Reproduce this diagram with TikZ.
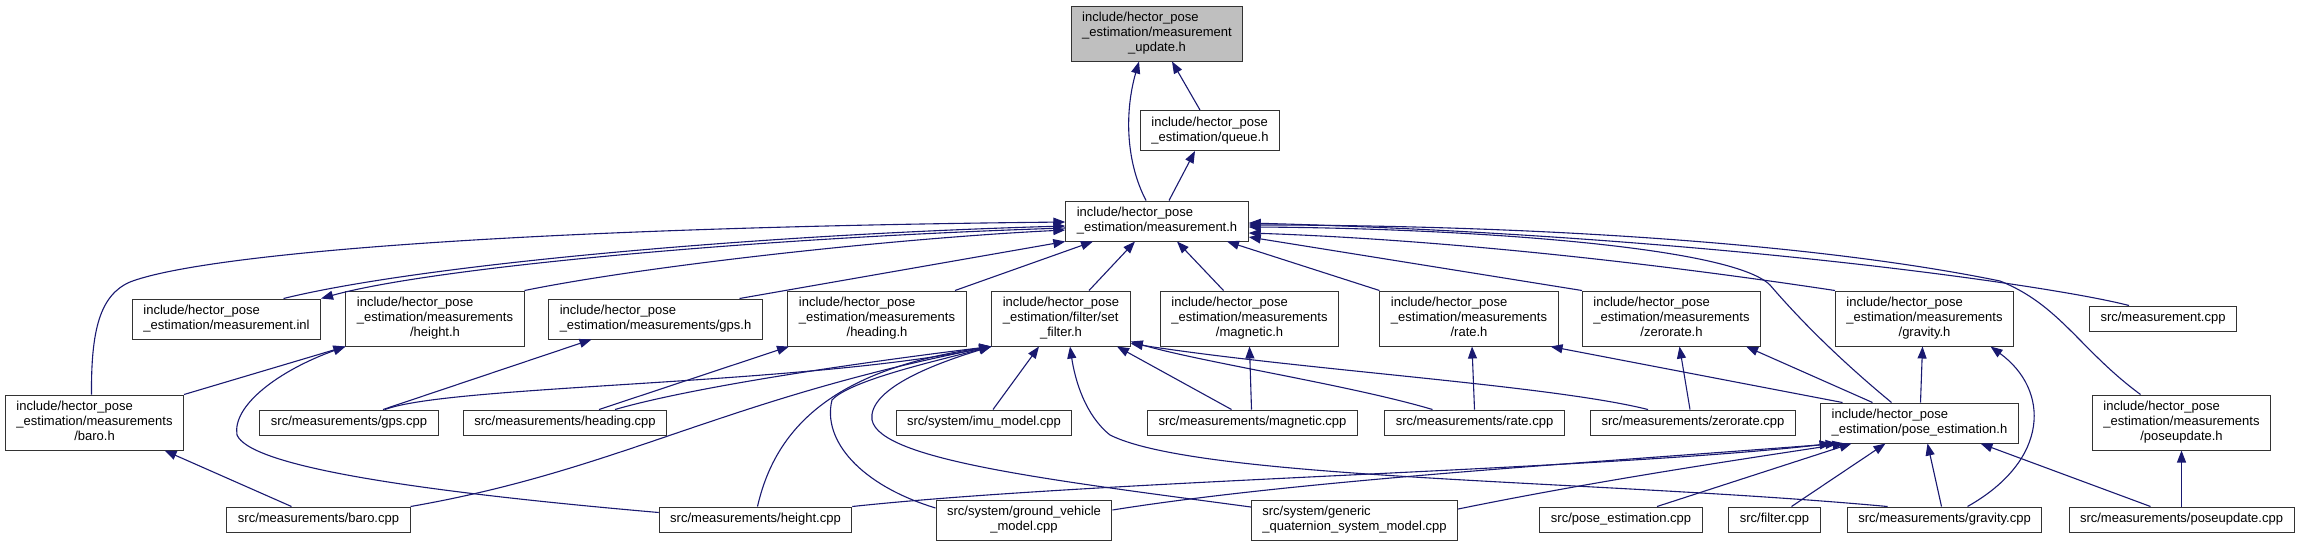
\documentclass[tikz,border=0pt]{standalone}
\usepackage{fontspec}
\setmainfont{Liberation Sans}
\usetikzlibrary{arrows.meta}

\definecolor{edgeblue}{RGB}{25,25,112}
\definecolor{boxgray}{RGB}{191,191,191}
\newcommand{\fsz}{\fontsize{13}{15}\selectfont}
\newcommand{\flab}[2]{\begin{tabular}{@{}l@{}}#1\\\multicolumn{1}{@{}c@{}}{#2}\end{tabular}}
\newcommand{\slab}[1]{\begin{tabular}{@{}l@{}}#1\end{tabular}}

\begin{document}
\begin{tikzpicture}[x=1pt,y=-1pt,
  filebox/.style={draw=black!80, line width=1pt, fill=white, inner xsep=11pt, inner ysep=5pt, font=\fsz},
  incl/.style={draw=edgeblue, line width=1.1pt, -{Triangle[length=12pt,width=9pt]}}]

\useasboundingbox (0,0) rectangle (2301,547);

% top
\node[filebox, fill=boxgray] (mupd) at (1157,33.5) {\flab{include/hector\_pose\\\_estimation/measurement}{\_update.h}};
\node[filebox] (queueh) at (1210,130.5) {\flab{include/hector\_pose}{\_estimation/queue.h}};
\node[filebox] (meas) at (1157,221) {\flab{include/hector\_pose}{\_estimation/measurement.h}};

% headers
\node[filebox] (inl) at (226.5,319) {\flab{include/hector\_pose}{\_estimation/measurement.inl}};
\node[filebox] (heighth) at (435,318.5) {\flab{include/hector\_pose\\\_estimation/measurements}{/height.h}};
\node[filebox] (gpsh) at (655.5,319) {\flab{include/hector\_pose}{\_estimation/measurements/gps.h}};
\node[filebox] (headingh) at (877,318.5) {\flab{include/hector\_pose\\\_estimation/measurements}{/heading.h}};
\node[filebox] (setfilter) at (1061,318.5) {\flab{include/hector\_pose\\\_estimation/filter/set}{\_filter.h}};
\node[filebox] (magneth) at (1249.5,318.5) {\flab{include/hector\_pose\\\_estimation/measurements}{/magnetic.h}};
\node[filebox] (rateh) at (1469,318.5) {\flab{include/hector\_pose\\\_estimation/measurements}{/rate.h}};
\node[filebox] (zeroh) at (1671.5,318.5) {\flab{include/hector\_pose\\\_estimation/measurements}{/zerorate.h}};
\node[filebox] (gravh) at (1924.5,318.5) {\flab{include/hector\_pose\\\_estimation/measurements}{/gravity.h}};
\node[filebox] (meascpp) at (2163,318.5) {\slab{src/measurement.cpp}};

% third row
\node[filebox] (baroh) at (94.5,422.5) {\flab{include/hector\_pose\\\_estimation/measurements}{/baro.h}};
\node[filebox] (gpscpp) at (349,422.5) {\slab{src/measurements/gps.cpp}};
\node[filebox] (headcpp) at (565,422.5) {\slab{src/measurements/heading.cpp}};
\node[filebox] (imucpp) at (984,422.5) {\slab{src/system/imu\_model.cpp}};
\node[filebox] (magcpp) at (1252.5,422.5) {\slab{src/measurements/magnetic.cpp}};
\node[filebox] (ratecpp) at (1474.5,422.5) {\slab{src/measurements/rate.cpp}};
\node[filebox] (zerocpp) at (1693,422.5) {\slab{src/measurements/zerorate.cpp}};
\node[filebox] (poseh) at (1919.5,423) {\flab{include/hector\_pose}{\_estimation/pose\_estimation.h}};
\node[filebox] (poseuph) at (2181.5,422.5) {\flab{include/hector\_pose\\\_estimation/measurements}{/poseupdate.h}};

% bottom row
\node[filebox] (barocpp) at (318.5,519.5) {\slab{src/measurements/baro.cpp}};
\node[filebox] (heightcpp) at (755.5,519.5) {\slab{src/measurements/height.cpp}};
\node[filebox] (groundcpp) at (1024,520) {\flab{src/system/ground\_vehicle}{\_model.cpp}};
\node[filebox] (genericcpp) at (1354.5,520) {\flab{src/system/generic}{\_quaternion\_system\_model.cpp}};
\node[filebox] (posecpp) at (1621,519.5) {\slab{src/pose\_estimation.cpp}};
\node[filebox] (filtercpp) at (1774.5,519.5) {\slab{src/filter.cpp}};
\node[filebox] (gravcpp) at (1944.5,519.5) {\slab{src/measurements/gravity.cpp}};
\node[filebox] (poseupcpp) at (2181.5,519.5) {\slab{src/measurements/poseupdate.cpp}};

% into measurement_update.h and measurement.h
\draw[incl] ([xshift=-10]queueh.north) -- ([xshift=15]mupd.south);
\draw[incl] ([xshift=-11]meas.north) .. controls (1125,160) and (1125,110) .. ([xshift=-18]mupd.south);
\draw[incl] ([xshift=12]meas.north) -- ([xshift=-15]queueh.south);
\draw[incl] ([xshift=57]inl.north) .. controls (420,265) and (750,235) .. ([yshift=-5]meas.west);
\draw[incl] ([yshift=-7]meas.west) .. controls (750,238) and (430,268) .. (inl.north east);
\draw[incl] ([xshift=-3]baroh.north) .. controls (91,330) and (100,295) .. (130,282)
  .. controls (200,255) and (500,228) .. ([yshift=-1]meas.west);
\draw[incl] (heighth.north east) .. controls (650,265) and (900,238) .. ([yshift=-9]meas.west);
\draw[incl] ([xshift=84]gpsh.north) -- (meas.south west);
\draw[incl] ([xshift=78]headingh.north) -- ([xshift=-64]meas.south);
\draw[incl] ([xshift=28]setfilter.north) -- ([xshift=-22]meas.south);
\draw[incl] ([xshift=-26]magneth.north) -- ([xshift=20]meas.south);
\draw[incl] (rateh.north west) -- ([xshift=70]meas.south);
\draw[incl] (zeroh.north west) -- ([yshift=-16]meas.east);
\draw[incl] (gravh.north west) .. controls (1600,255) and (1400,238) .. ([yshift=-12]meas.east);
\draw[incl] ([xshift=-34]meascpp.north) .. controls (2050,285) and (1700,235) .. ([yshift=-2]meas.east);
\draw[incl] ([xshift=-41]poseuph.north) .. controls (2080,350) and (2060,305) .. (2000,281)
  .. controls (1800,240) and (1500,225) .. ([yshift=-4]meas.east);
\draw[incl] ([xshift=-28]poseh.north) .. controls (1840,360) and (1800,320) .. (1770,285)
  .. controls (1730,245) and (1450,228) .. ([yshift=-6]meas.east);

% third row to headers
\draw[incl] (baroh.north east) -- (heighth.south west);
\draw[incl] ([yshift=7]heightcpp.west) .. controls (400,490) and (250,465) .. (237,435)
  .. controls (232,405) and (280,370) .. (heighth.south west);
\draw[incl] ([xshift=34]gpscpp.north) -- ([xshift=-64]gpsh.south);
\draw[incl] ([xshift=36]gpscpp.north) .. controls (450,385) and (800,385) .. (setfilter.south west);
\draw[incl] ([xshift=34]headcpp.north) -- ([xshift=-88]headingh.south);
\draw[incl] ([xshift=50]headcpp.north) .. controls (700,385) and (880,360) .. (setfilter.south west);
\draw[incl] ([xshift=-27]barocpp.north) -- ([xshift=70]baroh.south);
\draw[incl] (barocpp.north east) .. controls (620,470) and (720,400) .. (setfilter.south west);
\draw[incl] ([xshift=2]heightcpp.north) .. controls (775,430) and (830,370) .. (setfilter.south west);
\draw[incl] ([yshift=12]groundcpp.west) .. controls (860,485) and (822,440) .. (832,400)
  .. controls (850,380) and (940,360) .. (setfilter.south west);
\draw[incl] ([yshift=13]genericcpp.west) .. controls (1050,480) and (880,460) .. (872,420)
  .. controls (868,390) and (930,365) .. (setfilter.south west);
\draw[incl] ([xshift=9]imucpp.north) -- ([xshift=-22]setfilter.south);
\draw[incl] ([xshift=-21]magcpp.north) -- ([xshift=56]setfilter.south);
\draw[incl] ([xshift=-1]magcpp.north) -- (magneth.south);
\draw[incl] ([xshift=-42]ratecpp.north) .. controls (1350,385) and (1200,362) .. ([yshift=5]setfilter.south east);
\draw[incl] (ratecpp.north) -- ([xshift=3]rateh.south);
\draw[incl] ([xshift=-45]zerocpp.north) .. controls (1550,385) and (1300,370) .. ([yshift=3]setfilter.south east);
\draw[incl] ([xshift=-3]zerocpp.north) -- ([xshift=8]zeroh.south);
\draw[incl] ([xshift=-57]gravcpp.north) .. controls (1600,480) and (1200,480) .. (1110,435)
  .. controls (1085,415) and (1075,380) .. ([xshift=9]setfilter.south);

% into pose_estimation.h
\draw[incl] (heightcpp.north east) .. controls (1100,480) and (1600,470) .. ([xshift=-88]poseh.south);
\draw[incl] ([yshift=10]groundcpp.east) .. controls (1300,480) and (1600,462) .. ([xshift=-82]poseh.south);
\draw[incl] ([yshift=11]genericcpp.east) .. controls (1600,480) and (1750,458) .. ([xshift=-75]poseh.south);
\draw[incl] ([xshift=36]posecpp.north) -- ([xshift=-68]poseh.south);
\draw[incl] ([xshift=17]filtercpp.north) -- ([xshift=-34]poseh.south);
\draw[incl] ([xshift=-3]gravcpp.north) -- ([xshift=8]poseh.south);
\draw[incl] ([xshift=23]gravcpp.north) .. controls (2050,460) and (2050,390) .. ([xshift=66]gravh.south);
\draw[incl] ([xshift=-31]poseupcpp.north) -- ([xshift=61]poseh.south);
\draw[incl] (poseupcpp.north) -- (poseuph.south);
\draw[incl] ([xshift=-77]poseh.north) -- ([xshift=-8]rateh.south east);
\draw[incl] ([xshift=-47]poseh.north) -- ([xshift=-15]zeroh.south east);
\draw[incl] ([xshift=1]poseh.north) -- ([xshift=-2]gravh.south);

\end{tikzpicture}
\end{document}
